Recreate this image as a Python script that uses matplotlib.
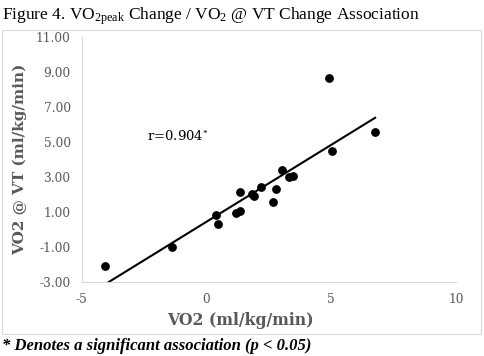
import numpy as np
import matplotlib
matplotlib.use("Agg")
import matplotlib.pyplot as plt
from matplotlib.patches import Rectangle

# Data
vo2_change = [-4.07, -1.37, 0.39, 0.47, 1.19, 1.35, 1.35, 1.83, 1.89, 2.20,
              2.67, 2.77, 3.01, 3.31, 3.48, 5.05, 6.76, 4.92]
vo2_vt_change = [-2.10, -1.05, 0.79, 0.30, 0.93, 1.06, 2.11, 2.01, 1.90, 2.41,
                 1.55, 2.31, 3.38, 2.97, 3.06, 4.47, 5.54, 8.64]
y_ticks = [-3, -1, 1, 3, 5, 7, 9, 11]
x_ticks = [-5, 0, 5, 10]

plt.rcParams['mathtext.fontset'] = 'custom'
plt.rcParams['mathtext.rm'] = 'Liberation Serif'
plt.rcParams['mathtext.it'] = 'Liberation Serif:italic'

gray = '#595959'
fig = plt.figure(figsize=(4.84, 3.56), dpi=100)

# light frame around the chart area
fig.patches.append(Rectangle((2/484, 1-334/356), 479/484, 304/356, transform=fig.transFigure,
                             fill=False, edgecolor='#d9d9d9', linewidth=0.8))

ax = fig.add_axes([0.169, 0.209, 0.773, 0.688])
ax.scatter(vo2_change, vo2_vt_change, s=28, color='black', zorder=3)

# linear trend line
slope, intercept = np.polyfit(vo2_change, vo2_vt_change, 1)
xs = np.array([min(vo2_change), max(vo2_change)])
ax.plot(xs, slope * xs + intercept, color='black', linewidth=1.5, zorder=2)

ax.set_xlim(-5, 10)
ax.set_ylim(-3, 11)
ax.set_xticks(x_ticks)
ax.set_yticks(y_ticks)
ax.set_yticklabels([f'{v:.2f}' for v in y_ticks], family='DejaVu Serif', fontsize=8.8, color=gray)
ax.set_xticklabels([str(v) for v in x_ticks], family='DejaVu Serif', fontsize=8.8, color=gray)
ax.tick_params(length=0, pad=8)
for side in ['top', 'right']:
    ax.spines[side].set_visible(False)
for side in ['left', 'bottom']:
    ax.spines[side].set_color('#d9d9d9')

ax.set_xlabel('VO2 (ml/kg/min)', family='DejaVu Serif', fontsize=11.3, fontweight='bold', color=gray)
ax.xaxis.set_label_coords(0.425, -0.125)
ax.set_ylabel('VO2 @ VT (ml/kg/min)', family='DejaVu Serif', fontsize=11, fontweight='bold', color=gray, labelpad=6)

ax.text(-2.4, 5.3, 'r=0.904$^{*}$', family='DejaVu Serif', fontsize=9.5, color='black', va='center')

fig.text(0.005, 0.985, r'Figure 4. VO$_{2\mathrm{peak}}$ Change / VO$_2$ @ VT Change Association',
         family='Liberation Serif', fontsize=12.5, va='top', ha='left')
fig.text(0.005, 0.005, '* Denotes a significant association (p < 0.05)',
         family='Liberation Serif', fontsize=12, fontweight='bold', style='italic', va='bottom', ha='left')

plt.savefig('out.png', dpi=100)
